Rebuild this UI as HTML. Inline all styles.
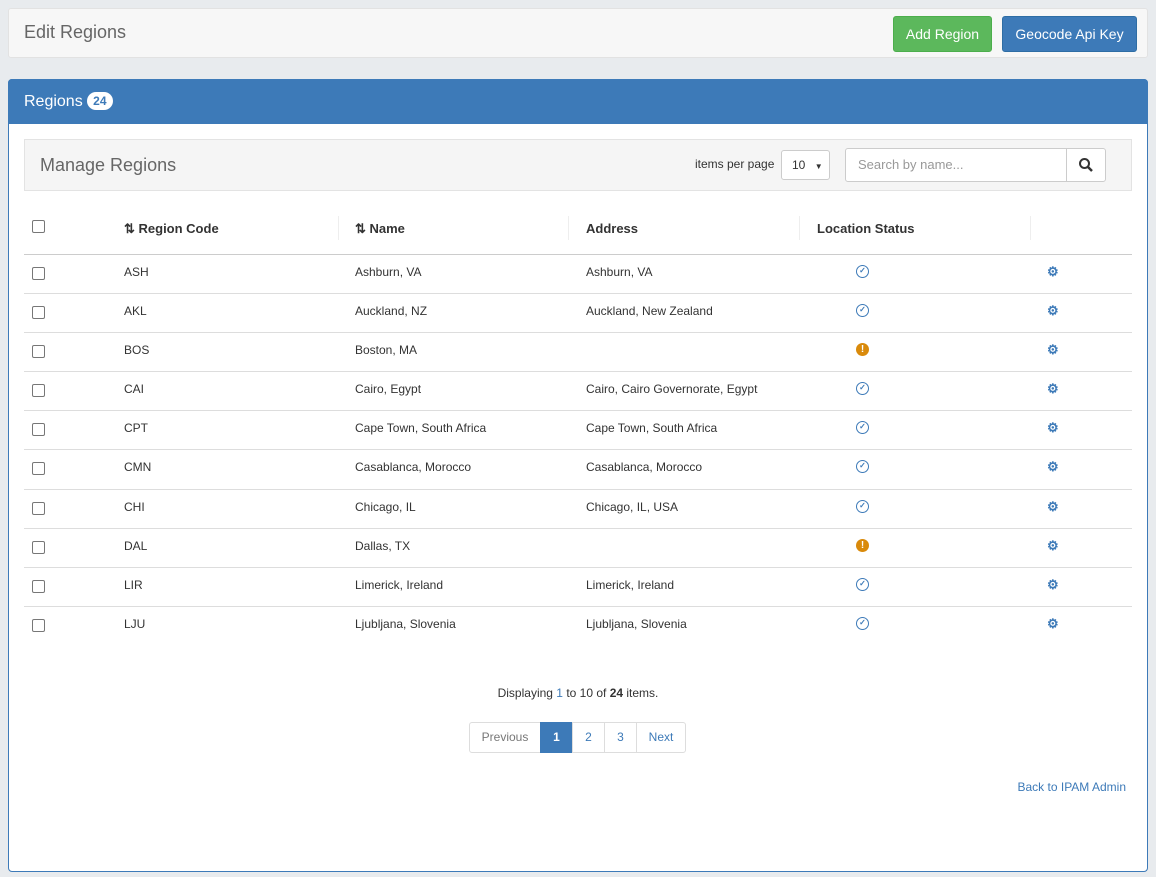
<!DOCTYPE html><html><head><style>
*{box-sizing:border-box}body{margin:0;width:1156px;height:877px;background:#e8ebee;font-family:"Liberation Sans",sans-serif;position:relative;overflow:hidden;color:#333}
.a{position:absolute}
.btn{position:absolute;color:#fff;font-size:14px;text-align:center;line-height:34px;border-radius:3px}
.cb{position:absolute;left:32px;width:13px;height:13px;border:1px solid #777;border-radius:2px;background:#fff}
.row{position:absolute;left:24px;width:1108px;height:39px;border-top:1px solid #ddd;font-size:12px}
.row span{position:absolute;top:10px}
.ok{position:absolute;left:832px;top:10px;width:13px;height:13px;border:1.6px solid #3d7ab8;border-radius:50%;font-size:8px;color:#3d7ab8;text-align:center;line-height:10px;font-weight:bold}
.wn{position:absolute;left:832px;top:10px;width:13px;height:13px;background:#d98a0b;border-radius:50%;font-size:10px;color:#fff;text-align:center;line-height:13px;font-weight:bold}
.g{position:absolute;left:1023px;top:9px;color:#3d7ab8;font-size:13px;font-weight:bold}
.th{position:absolute;top:221px;font-size:13px;font-weight:bold}
.pg{position:absolute;top:722px;height:31px;border:1px solid #ddd;font-size:12px;color:#3d7ab8;line-height:29px;text-align:center;background:#fff}
</style></head><body>
<div class="a" style="left:8px;top:8px;width:1140px;height:50px;background:#f7f7f7;border:1px solid #e2e2e2;border-radius:3px"></div>
<div class="a" style="left:24px;top:22px;font-size:18px;color:#666">Edit Regions</div>
<div class="btn" style="left:893px;top:16px;width:99px;background:#5cb85c;border:1px solid #4cae4c">Add Region</div>
<div class="btn" style="left:1002px;top:16px;width:135px;background:#3d7ab8;border:1px solid #2e6da4">Geocode Api Key</div>
<div class="a" style="left:8px;top:79px;width:1140px;height:793px;background:#fff;border:1px solid #3d7ab8;border-radius:4px"></div>
<div class="a" style="left:8px;top:79px;width:1140px;height:45px;background:#3d7ab8;border-radius:4px 4px 0 0"></div>
<div class="a" style="left:24px;top:92px;font-size:16px;color:#fff">Regions <span style="display:inline-block;background:#fff;color:#3d7ab8;font-size:12px;font-weight:bold;border-radius:9px;padding:2px 6px;vertical-align:1px">24</span></div>
<div class="a" style="left:24px;top:139px;width:1108px;height:52px;background:#f5f5f5;border:1px solid #e3e3e3"></div>
<div class="a" style="left:40px;top:155px;font-size:18px;color:#666">Manage Regions</div>
<div class="a" style="left:695px;top:157px;font-size:12px">items per page</div>
<div class="a" style="left:781px;top:150px;width:49px;height:30px;background:#fff;border:1px solid #ccc;border-radius:3px;font-size:12px;line-height:28px;padding-left:10px">10 <span style="font-size:8px;margin-left:6px">▼</span></div>
<div class="a" style="left:845px;top:148px;width:261px;height:34px;background:#fff;border:1px solid #ccc;border-radius:3px"></div>
<div class="a" style="left:1066px;top:148px;width:1px;height:34px;background:#ccc"></div>
<div class="a" style="left:858px;top:157px;font-size:13px;color:#999">Search by name...</div>
<svg class="a" style="left:1078px;top:157px" width="16" height="16"><circle cx="6.5" cy="6.5" r="4.5" stroke="#333" stroke-width="2" fill="none"/><line x1="10" y1="10" x2="14" y2="14" stroke="#333" stroke-width="2.5"/></svg>
<div class="cb" style="top:220px"></div>
<div class="th" style="left:124px">⇅ Region Code</div>
<div class="th" style="left:355px">⇅ Name</div>
<div class="th" style="left:586px">Address</div>
<div class="th" style="left:817px">Location Status</div>
<div class="a" style="left:338px;top:216px;width:1px;height:24px;background:#eee"></div>
<div class="a" style="left:568px;top:216px;width:1px;height:24px;background:#eee"></div>
<div class="a" style="left:799px;top:216px;width:1px;height:24px;background:#eee"></div>
<div class="a" style="left:1030px;top:216px;width:1px;height:24px;background:#eee"></div>
<div class="row" style="top:254px;border-top:1px solid #ccc"><div class="cb" style="left:8px;top:12px"></div><span style="left:100px">ASH</span><span style="left:331px">Ashburn, VA</span><span style="left:562px">Ashburn, VA</span><div class="ok">✓</div><div class="g">⚙</div></div>
<div class="row" style="top:293px"><div class="cb" style="left:8px;top:12px"></div><span style="left:100px">AKL</span><span style="left:331px">Auckland, NZ</span><span style="left:562px">Auckland, New Zealand</span><div class="ok">✓</div><div class="g">⚙</div></div>
<div class="row" style="top:332px"><div class="cb" style="left:8px;top:12px"></div><span style="left:100px">BOS</span><span style="left:331px">Boston, MA</span><div class="wn">!</div><div class="g">⚙</div></div>
<div class="row" style="top:371px"><div class="cb" style="left:8px;top:12px"></div><span style="left:100px">CAI</span><span style="left:331px">Cairo, Egypt</span><span style="left:562px">Cairo, Cairo Governorate, Egypt</span><div class="ok">✓</div><div class="g">⚙</div></div>
<div class="row" style="top:410px"><div class="cb" style="left:8px;top:12px"></div><span style="left:100px">CPT</span><span style="left:331px">Cape Town, South Africa</span><span style="left:562px">Cape Town, South Africa</span><div class="ok">✓</div><div class="g">⚙</div></div>
<div class="row" style="top:449px"><div class="cb" style="left:8px;top:12px"></div><span style="left:100px">CMN</span><span style="left:331px">Casablanca, Morocco</span><span style="left:562px">Casablanca, Morocco</span><div class="ok">✓</div><div class="g">⚙</div></div>
<div class="row" style="top:489px"><div class="cb" style="left:8px;top:12px"></div><span style="left:100px">CHI</span><span style="left:331px">Chicago, IL</span><span style="left:562px">Chicago, IL, USA</span><div class="ok">✓</div><div class="g">⚙</div></div>
<div class="row" style="top:528px"><div class="cb" style="left:8px;top:12px"></div><span style="left:100px">DAL</span><span style="left:331px">Dallas, TX</span><div class="wn">!</div><div class="g">⚙</div></div>
<div class="row" style="top:567px"><div class="cb" style="left:8px;top:12px"></div><span style="left:100px">LIR</span><span style="left:331px">Limerick, Ireland</span><span style="left:562px">Limerick, Ireland</span><div class="ok">✓</div><div class="g">⚙</div></div>
<div class="row" style="top:606px"><div class="cb" style="left:8px;top:12px"></div><span style="left:100px">LJU</span><span style="left:331px">Ljubljana, Slovenia</span><span style="left:562px">Ljubljana, Slovenia</span><div class="ok">✓</div><div class="g">⚙</div></div>
<div class="a" style="left:0;width:1156px;top:686px;text-align:center;font-size:12px">Displaying <span style="color:#3d7ab8">1</span> to 10 of <b>24</b> items.</div>
<div class="pg" style="left:469px;width:72px;color:#777;border-radius:3px 0 0 3px">Previous</div>
<div class="pg" style="left:540px;width:33px;background:#3d7ab8;border-color:#3d7ab8;color:#fff;font-weight:bold">1</div>
<div class="pg" style="left:572px;width:33px">2</div>
<div class="pg" style="left:604px;width:33px">3</div>
<div class="pg" style="left:636px;width:50px;border-radius:0 3px 3px 0">Next</div>
<div class="a" style="right:30px;top:780px;font-size:12px;color:#3d7ab8">Back to IPAM Admin</div>
</body></html>
